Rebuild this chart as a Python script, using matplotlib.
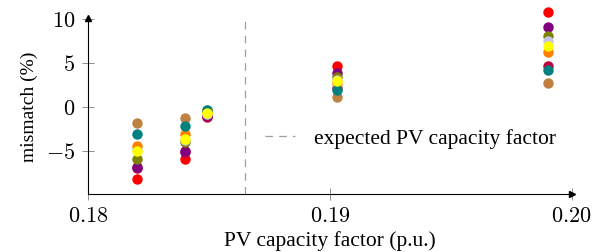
import matplotlib
matplotlib.use("Agg")
import matplotlib.pyplot as plt

plt.rcParams.update({
    "font.family": "Liberation Serif",
    "mathtext.fontset": "cm",
    "font.size": 13,
})

# capacity factor of each scenario (p.u.)
cap_factor = [0.18203, 0.18401, 0.18492, 0.19029, 0.19902]
expected_cf = 0.1865

# mismatch (%) per series, one value per capacity factor
series_colors = ["#ff0000", "#bf0040", "#800080", "#808000", "#c4c4e8",
                 "#ff8000", "#bf8040", "#008080", "#ffff00"]
red = [-8.2, -5.9, -1.1, 4.6, 10.8]
purple = [-6.9, -5.1, -1.05, 2.2, 4.7]
violet = [-6.8, -5.0, -1.0, 3.9, 9.1]
olive = [-5.9, -4.0, -0.8, 3.4, 8.1]
lavender = [-4.8, -3.8, -0.75, 3.1, 7.5]
orange = [-4.4, -3.1, -0.6, 2.7, 6.2]
brown = [-1.85, -1.25, -0.3, 1.1, 2.7]
teal = [-3.1, -2.2, -0.4, 1.9, 4.2]
yellow = [-5.0, -3.6, -0.7, 3.0, 6.9]
series = [red, purple, violet, olive, lavender, orange, brown, teal, yellow]

xticks = [0.18, 0.19, 0.20]
xticklabels = ["$0.18$", "$0.19$", "$0.20$"]
yticks = [-5, 0, 5, 10]
yticklabels = ["$-5$", "$0$", "$5$", "$10$"]

fig = plt.figure(figsize=(5.94, 2.53), dpi=100)
ax = fig.add_axes([0.148, 0.229, 0.8145, 0.696])

for vals, col in zip(series, series_colors):
    ax.plot(cap_factor, vals, "o", color=col, markersize=7.5,
            markeredgewidth=0, clip_on=False, zorder=3)

ax.axvline(expected_cf, color="0.62", lw=0.9, dashes=(6, 5),
           label="expected PV capacity factor", zorder=1)

ax.set_xlim(0.18, 0.20)
ax.set_ylim(-9.89, 10.1)
ax.set_xticks(xticks)
ax.set_xticklabels(xticklabels, fontsize=16)
ax.set_yticks(yticks)
ax.set_yticklabels(yticklabels, fontsize=16)
ax.tick_params(direction="inout", length=8, width=0.6, color="0.5", pad=5)
ax.set_xlabel("PV capacity factor (p.u.)", fontsize=15.5, labelpad=3)
ax.set_ylabel("mismatch (%)", fontsize=14, labelpad=6)

for s in ("top", "right"):
    ax.spines[s].set_visible(False)
for s in ("left", "bottom"):
    ax.spines[s].set_linewidth(0.8)
ax.plot(1, 0, ">k", markersize=5, transform=ax.transAxes, clip_on=False)
ax.plot(0, 1, "^k", markersize=5, transform=ax.transAxes, clip_on=False)

ax.legend(loc="center left", bbox_to_anchor=(0.325, 0.318), frameon=False,
          fontsize=15.5, handlelength=1.4, handletextpad=0.9)

fig.savefig("out.png", dpi=100)
